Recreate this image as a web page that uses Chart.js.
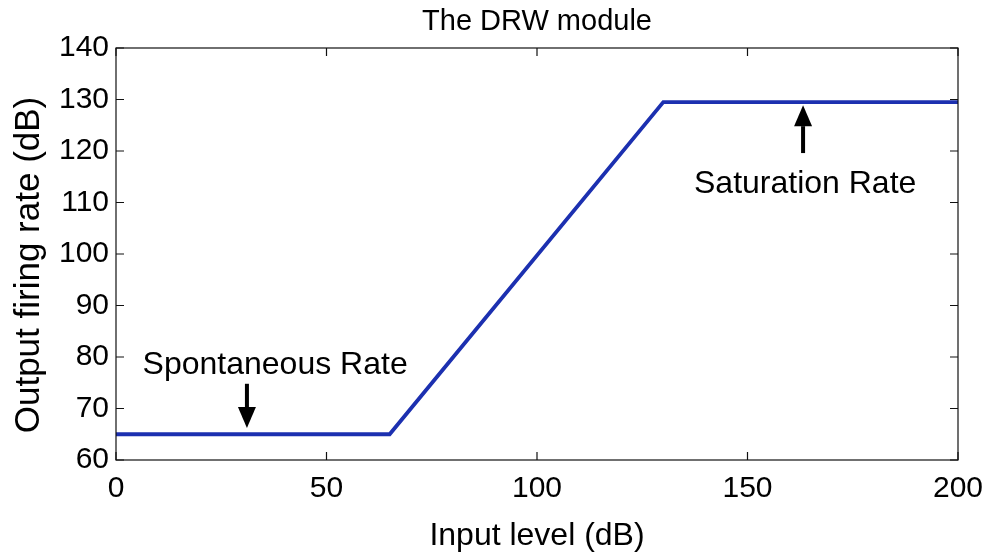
<!DOCTYPE html>
<html>
<head>
<meta charset="utf-8">
<script src="https://cdn.jsdelivr.net/npm/chart.js@4.4.0/dist/chart.umd.min.js"></script>
<style>
  html, body { margin: 0; padding: 0; background: #fff; }
  #wrap { width: 987px; height: 556px; }
</style>
</head>
<body>
<div id="wrap"><canvas id="drwChart"></canvas></div>
<script>
// Input level (dB) and output firing rate (dB) at the corners of the curve
const inputLevel = [0, 65, 130, 200];
const firingRate = [65, 65, 129.5, 129.5];

// Axis ranges and tick steps
const xRange = [0, 200];
const yRange = [60, 140];
const xStep = 50;
const yStep = 10;

// Annotations, in data units
const noteText = ['Spontaneous Rate', 'Saturation Rate'];
const noteAt = [[37.8, 78.4], [163.7, 113.6]];
const arrowFrom = [[31.1, 74.8], [163.2, 119.6]];
const arrowTo = [[31.1, 66.2], [163.2, 128.9]];

const yTitle = 'Output firing rate (dB)';

const FONT = 'Liberation Sans, Arial, Helvetica, sans-serif';

// box, inward tick marks, y title and the annotations
const boxAndNotes = {
    id: 'boxAndNotes',
    afterDatasetsDraw(chart) {
        const ctx = chart.ctx;
        const a = chart.chartArea;
        const xs = chart.scales.x;
        const ys = chart.scales.y;
        const tick = 8;

        ctx.save();
        ctx.strokeStyle = '#111';
        ctx.lineWidth = 1.2;
        ctx.strokeRect(a.left, a.top, a.right - a.left, a.bottom - a.top);

        ctx.beginPath();
        xs.ticks.forEach(t => {
            const px = xs.getPixelForValue(t.value);
            ctx.moveTo(px, a.bottom); ctx.lineTo(px, a.bottom - tick);
            ctx.moveTo(px, a.top); ctx.lineTo(px, a.top + tick);
        });
        ys.ticks.forEach(t => {
            const py = ys.getPixelForValue(t.value);
            ctx.moveTo(a.left, py); ctx.lineTo(a.left + tick, py);
            ctx.moveTo(a.right, py); ctx.lineTo(a.right - tick, py);
        });
        ctx.stroke();

        // arrows
        ctx.fillStyle = '#000';
        ctx.strokeStyle = '#000';
        for (let i = 0; i < arrowFrom.length; i++) {
            const x0 = xs.getPixelForValue(arrowFrom[i][0]);
            const y0 = ys.getPixelForValue(arrowFrom[i][1]);
            const x1 = xs.getPixelForValue(arrowTo[i][0]);
            const y1 = ys.getPixelForValue(arrowTo[i][1]);
            const ang = Math.atan2(y1 - y0, x1 - x0);
            const headLen = 21, headW = 9;
            const bx = x1 - headLen * Math.cos(ang);
            const by = y1 - headLen * Math.sin(ang);
            ctx.lineWidth = 4;
            ctx.beginPath();
            ctx.moveTo(x0, y0);
            ctx.lineTo(bx, by);
            ctx.stroke();
            ctx.beginPath();
            ctx.moveTo(x1, y1);
            ctx.lineTo(bx + headW * Math.sin(ang), by - headW * Math.cos(ang));
            ctx.lineTo(bx - headW * Math.sin(ang), by + headW * Math.cos(ang));
            ctx.closePath();
            ctx.fill();
        }

        // labels
        ctx.font = '32px ' + FONT;
        ctx.textAlign = 'center';
        ctx.textBaseline = 'middle';
        noteText.forEach((txt, i) => {
            ctx.fillText(txt, xs.getPixelForValue(noteAt[i][0]), ys.getPixelForValue(noteAt[i][1]));
        });

        // y axis title, sits a little below the middle of the plot
        ctx.translate(29, (a.top + a.bottom) / 2 + 11);
        ctx.rotate(-Math.PI / 2);
        ctx.font = '35px ' + FONT;
        ctx.fillText(yTitle, 0, 0);
        ctx.restore();
    }
};

const ctx = document.getElementById('drwChart').getContext('2d');
const drwChart = new Chart(ctx, {
    type: 'line',
    data: {
        datasets: [{
            data: inputLevel.map((x, i) => ({ x: x, y: firingRate[i] })),
            borderColor: '#1c30b0',
            borderWidth: 3.8,
            pointRadius: 0,
            fill: false,
            tension: 0
        }]
    },
    options: {
        responsive: true,
        maintainAspectRatio: false,
        animation: false,
        layout: { padding: { left: 0, right: 29, top: 0, bottom: 0 } },
        plugins: {
            legend: { display: false },
            tooltip: { enabled: false },
            title: {
                display: true,
                fullSize: false,
                text: 'The DRW module',
                color: '#000',
                font: { family: FONT, size: 29, weight: 'normal' },
                padding: { top: 5, bottom: 8.2 }
            }
        },
        scales: {
            x: {
                type: 'linear',
                min: xRange[0],
                max: xRange[1],
                afterFit(scale) {
                    scale.height = 96;
                    scale.paddingLeft = 0;
                    scale.paddingRight = 0;
                },
                ticks: {
                    stepSize: xStep,
                    color: '#000',
                    padding: 11,
                    maxRotation: 0,
                    font: { family: FONT, size: 30 }
                },
                grid: { display: false, drawTicks: false },
                border: { display: false },
                title: {
                    display: true,
                    text: 'Input level (dB)',
                    color: '#000',
                    font: { family: FONT, size: 32 },
                    padding: { top: 0, bottom: 1 }
                }
            },
            y: {
                type: 'linear',
                min: yRange[0],
                max: yRange[1],
                afterFit(scale) { scale.width = 116; },
                ticks: {
                    stepSize: yStep,
                    color: '#000',
                    padding: 7,
                    font: { family: FONT, size: 30 }
                },
                grid: { display: false, drawTicks: false },
                border: { display: false }
            }
        }
    },
    plugins: [boxAndNotes]
});
</script>
</body>
</html>
